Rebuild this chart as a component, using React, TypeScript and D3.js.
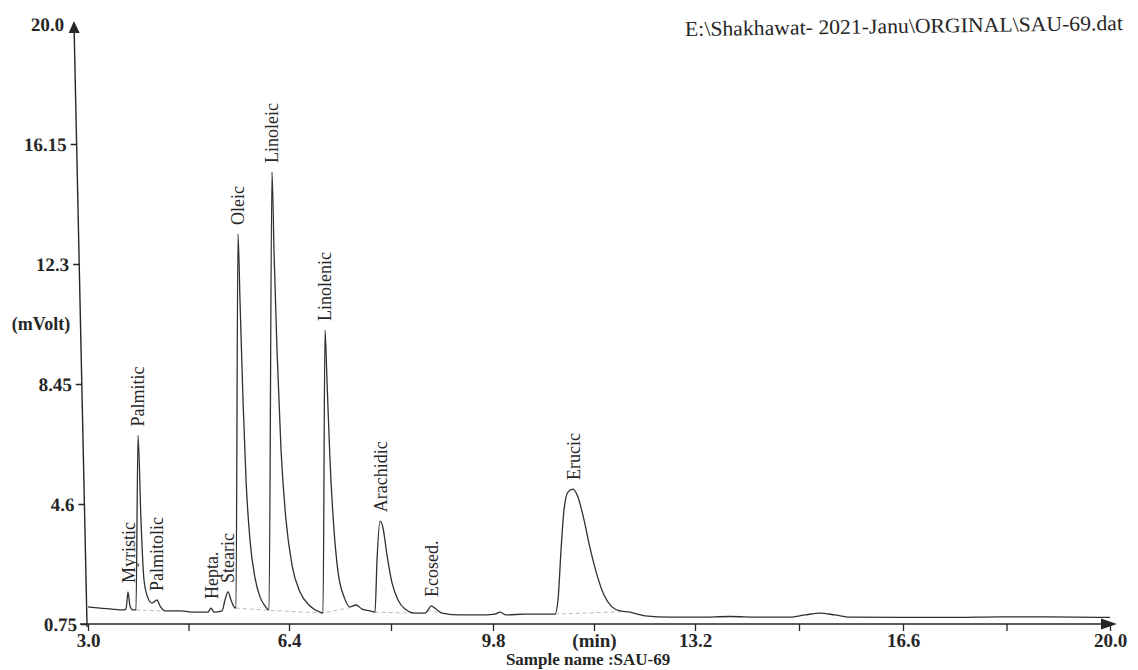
import React, { useEffect, useRef } from 'react';
import * as d3 from 'd3';

// trace: retention time (min) and detector signal (mV)
const traceTime = [
    3.0, 3.203, 3.406, 3.575, 3.643, 3.677, 3.71, 3.761, 3.812, 3.846, 3.896, 3.947, 4.015, 4.083, 4.167,
    4.218, 4.302, 4.556, 4.81, 5.03, 5.081, 5.131, 5.267, 5.317, 5.368, 5.419, 5.47, 5.503, 5.537, 5.571,
    5.622, 5.673, 5.74, 5.825, 5.909, 5.994, 6.062, 6.112, 6.146, 6.197, 6.265, 6.349, 6.45, 6.583, 6.75,
    6.917, 6.967, 7.0, 7.033, 7.083, 7.15, 7.217, 7.317, 7.417, 7.517, 7.617, 7.75, 7.833, 7.867, 7.917,
    7.967, 8.033, 8.117, 8.217, 8.333, 8.5, 8.667, 8.717, 8.767, 8.85, 8.95, 9.25, 9.583, 9.834, 9.918,
    10.019, 10.339, 10.675, 10.844, 10.894, 10.945, 10.995, 11.062, 11.147, 11.231, 11.332, 11.433, 11.551,
    11.668, 11.803, 11.938, 12.106, 12.358, 12.779, 13.282, 13.772, 14.262, 14.753, 14.998, 15.243, 15.488,
    15.734, 16.551, 17.372, 18.193, 19.015, 20.0,
];
const traceMilliVolt = [
    1.3, 1.26, 1.23, 1.2, 1.23, 1.78, 1.33, 1.2, 1.2, 6.8, 4.09, 2.16, 1.58, 1.42, 1.52,
    1.33, 1.17, 1.17, 1.13, 1.13, 1.26, 1.13, 1.17, 1.52, 1.78, 1.52, 1.3, 1.26, 13.26, 11.14,
    7.94, 5.37, 3.44, 2.23, 1.62, 1.33, 1.2, 15.25, 12.75, 9.54, 6.33, 4.09, 2.64, 1.78, 1.33,
    1.13, 1.1, 10.18, 8.58, 6.01, 3.77, 2.42, 1.62, 1.3, 1.36, 1.23, 1.17, 1.13, 2.8, 4.05,
    3.83, 2.96, 2.07, 1.52, 1.23, 1.1, 1.1, 1.2, 1.33, 1.23, 1.1, 1.04, 1.04, 1.07, 1.13,
    1.04, 1.07, 1.07, 1.07, 1.52, 3.12, 4.41, 4.98, 5.08, 4.82, 4.09, 3.19, 2.32,
    1.68, 1.3, 1.17, 1.13, 1.01, 0.97, 0.97, 0.99, 0.97, 0.97, 1.04, 1.1, 1.04,
    0.97, 0.96, 0.96, 0.98, 0.98, 0.96,
];

const peakNames = ['Myristic', 'Palmitic', 'Palmitolic', 'Hepta.', 'Stearic', 'Oleic', 'Linoleic', 'Linolenic', 'Arachidic', 'Ecosed.', 'Erucic'];
const peakTimes = [3.677, 3.846, 4.167, 5.081, 5.368, 5.537, 6.112, 7.0, 7.917, 8.767, 11.147];
const peakHeights = [1.78, 6.8, 1.52, 1.26, 1.78, 13.26, 15.25, 10.18, 4.05, 1.33, 5.08];

// faint integration baselines drawn under the peaks
const integrationBaselines = [
    [[3.81, 1.2], [4.3, 1.17]],
    [[5.5, 1.26], [6.06, 1.19], [6.97, 1.1], [7.42, 1.28]],
    [[7.83, 1.13], [8.5, 1.1]],
    [[8.7, 1.18], [8.95, 1.1]],
    [[10.84, 1.07], [11.94, 1.14]],
];

const xKnots = [3.0, 6.4, 9.8, 13.2, 16.6, 20.0];
const xTickValues = [3.0, 4.7, 6.4, 8.1, 9.8, 11.5, 13.2, 14.9, 16.6, 18.3, 20.0];
const xTickLabels = ['3.0', '', '6.4', '', '9.8', '(min)', '13.2', '', '16.6', '', '20.0'];
const yTickValues = [0.75, 4.6, 8.45, 12.3, 16.15, 20.0];
const yTickLabels = ['0.75', '4.6', '8.45', '12.3', '16.15', '20.0'];

const filePath = 'E:\\Shakhawat- 2021-Janu\\ORGINAL\\SAU-69.dat';
const sampleName = 'Sample name :SAU-69';
const yUnit = '(mVolt)';

const W = 1138;
const H = 670;
const SERIF = '"Liberation Serif", "Times New Roman", serif';
const INK = '#262626';

const Chromatogram = () => {
    const svgRef = useRef(null);

    useEffect(() => {
        const svg = d3.select(svgRef.current);
        svg.selectAll('*').remove();

        // the printed time axis is a bit uneven on the scan, so pin every labelled tick
        const x = d3.scaleLinear().domain(xKnots).range([88, 289, 493, 695, 903, 1110]);
        const y = d3.scaleLinear().domain([0.75, 20]).range([624, 24]);

        svg.append('rect').attr('width', W).attr('height', H).attr('fill', '#ffffff');

        // x axis
        const xAxis = svg
            .append('g')
            .attr('transform', `translate(0,${y(0.75)})`)
            .call(
                d3
                    .axisBottom(x)
                    .tickValues(xTickValues)
                    .tickFormat((d, i) => xTickLabels[i])
                    .tickSize(7)
                    .tickPadding(3)
            );
        xAxis.select('.domain').remove();
        xAxis.selectAll('line').attr('stroke', INK).attr('stroke-width', 1.3);
        xAxis.selectAll('text').attr('fill', INK).style('font', `bold 19px ${SERIF}`);
        xAxis
            .append('line')
            .attr('x1', x(3) - 8)
            .attr('x2', x(20) - 4)
            .attr('stroke', INK)
            .attr('stroke-width', 1.4);
        xAxis
            .append('path')
            .attr('d', `M${x(20) + 7},0 l-16,-5.5 l0,11 z`)
            .attr('fill', INK);

        // y axis leans a little on the scan, skew it about the time axis
        const yAxis = svg
            .append('g')
            .attr('transform', `translate(0,${y(0.75)}) skewX(1.24) translate(${x(3) - 1},${-y(0.75)})`)
            .call(
                d3
                    .axisLeft(y)
                    .tickValues(yTickValues)
                    .tickFormat((d, i) => yTickLabels[i])
                    .tickSize(6)
                    .tickPadding(4)
            );
        yAxis.select('.domain').remove();
        yAxis.selectAll('line').attr('stroke', INK).attr('stroke-width', 1.3);
        yAxis.selectAll('.tick').filter((d) => d === 20).select('line').remove();
        yAxis.selectAll('text').attr('fill', INK).style('font', `bold 19px ${SERIF}`);
        yAxis
            .append('line')
            .attr('y1', y(0.75) + 3)
            .attr('y2', y(20) + 6)
            .attr('stroke', INK)
            .attr('stroke-width', 1.4);
        yAxis
            .append('path')
            .attr('d', `M0,${y(20) - 3} l-5.5,12 l11,0 z`)
            .attr('fill', INK);

        // integration baselines
        const baseLine = d3
            .line()
            .x((d) => x(d[0]))
            .y((d) => y(d[1]));
        svg.append('g')
            .selectAll('path')
            .data(integrationBaselines)
            .join('path')
            .attr('d', baseLine)
            .attr('fill', 'none')
            .attr('stroke', '#b4b4b4')
            .attr('stroke-width', 0.9)
            .attr('stroke-dasharray', '4 3');

        // chromatogram trace
        const traceLine = d3
            .line()
            .x((d) => x(d[0]))
            .y((d) => y(d[1]))
            .curve(d3.curveMonotoneX);
        svg.append('path')
            .datum(d3.zip(traceTime, traceMilliVolt))
            .attr('d', traceLine)
            .attr('fill', 'none')
            .attr('stroke', '#303030')
            .attr('stroke-width', 1.3)
            .attr('stroke-linejoin', 'round');

        // peak names, written upwards above each apex
        svg.append('g')
            .selectAll('text')
            .data(peakNames)
            .join('text')
            .attr('transform', (d, i) => `translate(${x(peakTimes[i])},${y(peakHeights[i]) - 9}) rotate(-90)`)
            .attr('dy', '0.36em')
            .attr('text-anchor', 'start')
            .attr('fill', INK)
            .style('font', `18px ${SERIF}`)
            .text((d) => d);

        // unit, file path and sample name
        svg.append('text')
            .attr('x', 41)
            .attr('y', y(10.375))
            .attr('dy', '0.32em')
            .attr('text-anchor', 'middle')
            .attr('fill', INK)
            .style('font', `bold 18px ${SERIF}`)
            .text(yUnit);

        svg.append('text')
            .attr('x', 1123)
            .attr('y', 33)
            .attr('text-anchor', 'end')
            .attr('textLength', 438)
            .attr('lengthAdjust', 'spacingAndGlyphs')
            .attr('transform', 'rotate(-0.8 904 28)')
            .attr('fill', INK)
            .style('font', `21px ${SERIF}`)
            .text(filePath);

        svg.append('text')
            .attr('x', x(11.4))
            .attr('y', 665)
            .attr('text-anchor', 'middle')
            .attr('fill', INK)
            .style('font', `bold 17px ${SERIF}`)
            .text(sampleName);
    }, []);

    return <svg ref={svgRef} width={W} height={H} style={{ position: 'absolute', left: 0, top: 0 }} />;
};

export default function App() {
    return <Chromatogram />;
}
